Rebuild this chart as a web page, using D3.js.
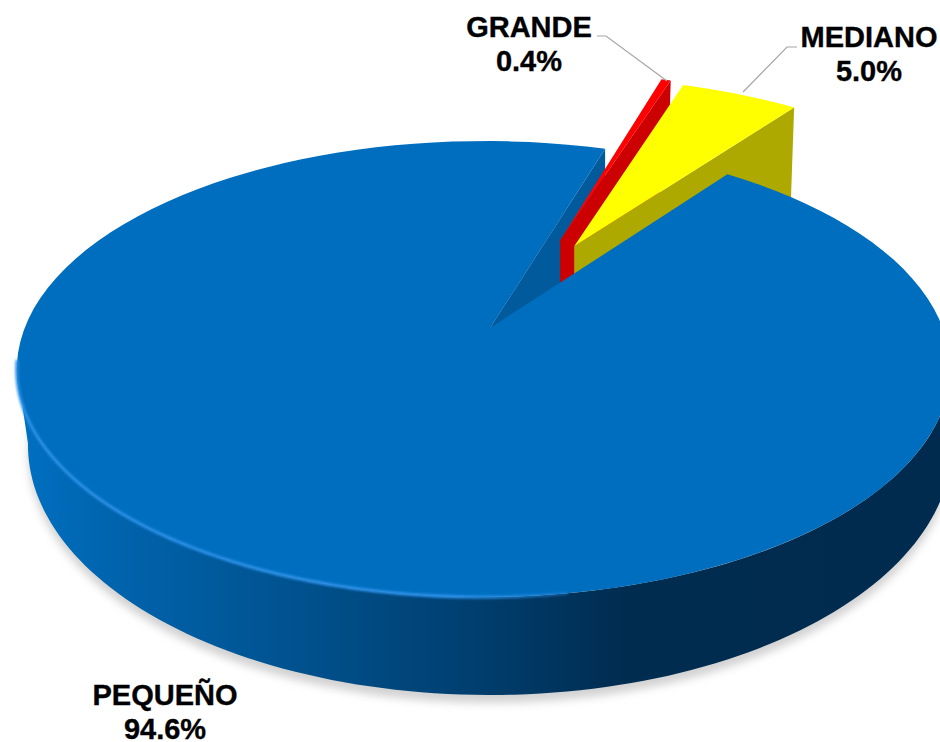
<!DOCTYPE html>
<html>
<head>
<meta charset="utf-8">
<script src="https://cdn.jsdelivr.net/npm/d3@7/dist/d3.min.js"></script>
<style>
html,body{margin:0;padding:0;background:#fff;overflow:hidden}
svg{display:block}
text{font-family:"Liberation Sans",Arial,sans-serif;font-weight:700;font-size:29px;fill:#000;stroke:#000;stroke-width:0.35px;text-anchor:middle}
</style>
</head>
<body>
<svg id="c" width="940" height="742"></svg>
<script>
const categories = ["PEQUEÑO", "GRANDE", "MEDIANO"];
const values = [94.6, 0.4, 5.0];
const topColors = ["#006EBF", "#FF0000", "#FFFF00"];
const wallColors = ["#005A9C", "#CC0000", "#ADA900"];

const W = 940, H = 742;
const svg = d3.select("#c");
const rad = d => d * Math.PI / 180;

// perspective disc: unit circle (u right, v towards viewer) to the page
const K = 0.18;
const planeTop = {cx: 490, cy: 328, rx: 459, ry: 220.6, j: 0.0137};
const planeBottom = {cx: 490, cy: 400, rx: 454.5, ry: 241.9, j: 0};
const proj = (u, v, p = planeTop) => {
  const w = 1 - K * v + p.j * u;
  return [p.cx + p.rx * u / w, p.cy + p.ry * v / w];
};
const polar = (a, off = [0, 0], p = planeTop, r = 1) =>
  proj(off[0] + r * Math.sin(a), off[1] - r * Math.cos(a), p);
const path = d3.line();
const arcPts = (a0, a1, off, p, r) =>
  d3.range(0, 121).map(i => polar(a0 + (a1 - a0) * i / 120, off, p, r));

const pie = d3.pie().sort(null).value(d => d).startAngle(rad(36.6)).endAngle(rad(396.6));
const slices = pie(values).map((s, i) => ({...s, i}));
// how far each slice is pulled out of the disc, in disc units
const explode = [[0, 0], [0.165, -0.43], [0.197, -0.398]];
const pulledRadius = 1.04;
const wallDrop = [[0, 70], [-3, 100], [-3.5, 100]];

const defs = svg.append("defs");
const wallGrad = defs.append("linearGradient").attr("id", "wall")
  .attr("gradientUnits", "userSpaceOnUse").attr("x1", 17).attr("x2", 940).attr("y1", 0).attr("y2", 0);
[[0, "#0070C2"], [0.1, "#0064AE"], [0.3, "#00528F"], [0.5, "#003E6E"], [0.66, "#002C50"], [1, "#002B4E"]]
  .forEach(([o, c]) => wallGrad.append("stop").attr("offset", o).attr("stop-color", c));
const rimGrad = defs.append("linearGradient").attr("id", "rim")
  .attr("gradientUnits", "userSpaceOnUse").attr("x1", 17).attr("x2", 640).attr("y1", 0).attr("y2", 0);
[[0, "#2A8FE6", 0.9], [0.7, "#2A8FE6", 1], [1, "#2A8FE6", 0]]
  .forEach(([o, c, a]) => rimGrad.append("stop").attr("offset", o).attr("stop-color", c).attr("stop-opacity", a));
defs.append("filter").attr("id", "soft").attr("x", "-10%").attr("y", "-10%").attr("width", "120%").attr("height", "120%")
  .append("feGaussianBlur").attr("stdDeviation", 4.5);
defs.append("filter").attr("id", "soft1").attr("x", "-10%").attr("y", "-10%").attr("width", "120%").attr("height", "120%")
  .append("feGaussianBlur").attr("stdDeviation", 1.1);

const main = slices[0];

// ground shadow
svg.append("path")
  .attr("d", path(arcPts(0, 2 * Math.PI, [0, 0], planeBottom)) + "Z")
  .attr("transform", "translate(0,8)")
  .attr("fill", "#d2d2d2").attr("filter", "url(#soft)");

// outer wall of the main slice
const frontA = rad(95), frontB = rad(260);
svg.append("path")
  .attr("d", path([...arcPts(frontA, frontB), ...arcPts(frontB, frontA, [0, 0], planeBottom)]) + "Z")
  .attr("fill", "url(#wall)");

// inner cut wall of the main slice
const mainCorner = polar(main.endAngle);
const mainApex = proj(0, 0);
svg.append("path")
  .attr("d", path([mainApex, mainCorner,
    [mainCorner[0], mainCorner[1] + wallDrop[0][1]],
    [mainApex[0], mainApex[1] + wallDrop[0][1]]]) + "Z")
  .attr("fill", wallColors[0]);

// pulled-out slices
slices.slice(1).forEach(s => {
  const off = explode[s.i], drop = wallDrop[s.i];
  const apex = proj(off[0], off[1]);
  const corner = polar(s.endAngle, off, planeTop, pulledRadius);
  svg.append("path")
    .attr("d", path([apex, corner,
      [corner[0] + drop[0], corner[1] + drop[1]],
      [apex[0], apex[1] + drop[1]]]) + "Z")
    .attr("fill", wallColors[s.i]);
  svg.append("path")
    .attr("d", path([apex, ...arcPts(s.startAngle, s.endAngle, off, planeTop, pulledRadius)]) + "Z")
    .attr("fill", topColors[s.i]);
});

// top face of the main slice
svg.append("path")
  .attr("d", path([mainApex, ...arcPts(main.startAngle, main.endAngle)]) + "Z")
  .attr("fill", topColors[0]);

// rim highlight along the front edge
svg.append("path")
  .attr("d", path(arcPts(rad(262), rad(172))))
  .attr("fill", "none").attr("stroke", "url(#rim)").attr("stroke-width", 3.4)
  .attr("filter", "url(#soft1)");

// leader lines
const leaders = svg.append("g").attr("fill", "none").attr("stroke", "#A6A6A6").attr("stroke-width", 1.2);
const leaderGrande = [[597, 36], [606, 36], [667, 81]];
const leaderMediano = [[797, 47], [787, 47], [743, 92]];
leaders.append("path").attr("d", path(leaderGrande));
leaders.append("path").attr("d", path(leaderMediano));

// labels
const labelPos = [[165, 705], [529, 37], [869, 47]];
const fmt = d3.format(".1f");
slices.forEach(s => {
  const [x, y] = labelPos[s.i];
  svg.append("text").attr("x", x).attr("y", y).text(categories[s.i]);
  svg.append("text").attr("x", x).attr("y", y + 34).text(fmt(values[s.i]) + "%");
});
</script>
</body>
</html>
